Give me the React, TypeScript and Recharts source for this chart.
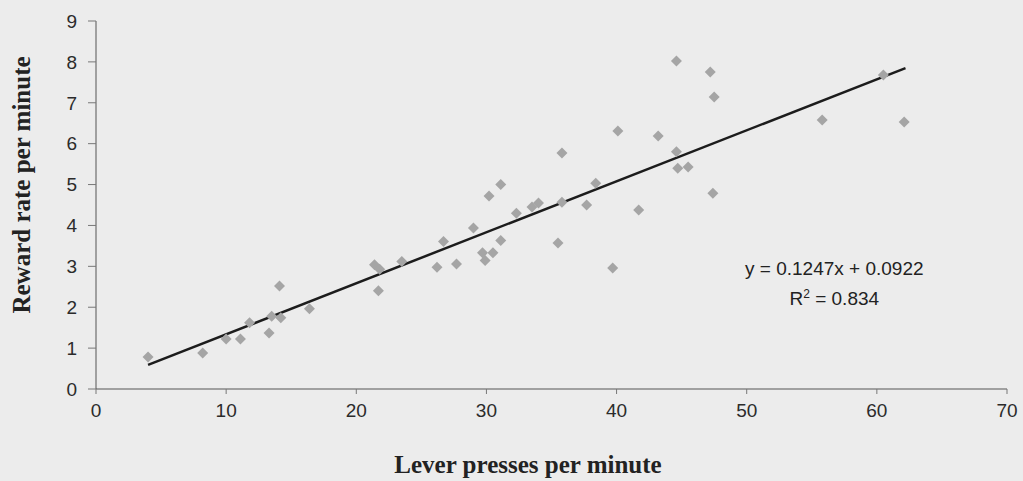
import React from "react";
import {
  ReferenceLine,
  Scatter,
  ScatterChart,
  XAxis,
  YAxis,
} from "recharts";

// Lever presses vs reward rate, one point per session.
const leverPresses = [
  4.0, 8.2, 10.0, 11.1, 11.8, 13.3, 13.5, 14.1, 14.2, 16.4,
  21.4, 21.8, 21.7, 23.5, 26.2, 26.7, 27.7, 29.7, 29.9, 30.5,
  29.0, 30.2, 31.1, 31.1, 32.3, 33.5, 34.0, 35.8, 35.8, 35.5,
  37.7, 38.4, 39.7, 40.1, 41.7, 43.2, 44.6, 44.6, 44.7, 45.5,
  47.2, 47.5, 47.4, 55.8, 60.5, 62.1,
];
const rewardRate = [
  0.78, 0.88, 1.22, 1.22, 1.62, 1.37, 1.78, 2.52, 1.74, 1.96,
  3.04, 2.93, 2.4, 3.12, 2.98, 3.61, 3.06, 3.33, 3.14, 3.33,
  3.94, 4.72, 5.0, 3.63, 4.3, 4.45, 4.55, 4.57, 5.77, 3.57,
  4.5, 5.03, 2.96, 6.31, 4.38, 6.19, 8.02, 5.8, 5.4, 5.43,
  7.75, 7.14, 4.79, 6.58, 7.68, 6.53,
];

const xTicks = [0, 10, 20, 30, 40, 50, 60, 70];
const yTicks = [0, 1, 2, 3, 4, 5, 6, 7, 8, 9];

// linear trendline as printed on the chart
const slope = 0.1247;
const intercept = 0.0922;
const rSquared = "0.834";
const trendFrom = 4.0;
const trendTo = 62.2;

const points = leverPresses.map((x, i) => ({ x, y: rewardRate[i] }));

const sans = "'Liberation Sans', Arial, sans-serif";
const serif = "'Liberation Serif', 'Times New Roman', serif";

function Diamond(props: any) {
  const { cx, cy } = props;
  const r = 5.5;
  return (
    <polygon
      points={`${cx},${cy - r} ${cx + r},${cy} ${cx},${cy + r} ${cx - r},${cy}`}
      fill="#a5a5a5"
    />
  );
}

export default function App() {
  const tick = { fill: "#2b2b2b", fontSize: 19, fontFamily: sans };
  return (
    <div
      style={{
        position: "absolute",
        left: 0,
        top: 0,
        width: 1023,
        height: 481,
        background: "#ececec",
        overflow: "hidden",
      }}
    >
      <ScatterChart
        width={1023}
        height={481}
        margin={{ top: 21, right: 16, left: 0, bottom: 0 }}
      >
        <XAxis
          type="number"
          dataKey="x"
          domain={[0, 70]}
          ticks={xTicks}
          height={92}
          tick={tick}
          tickSize={5}
          tickMargin={10}
          axisLine={{ stroke: "#555" }}
          tickLine={{ stroke: "#777" }}
        />
        <YAxis
          type="number"
          dataKey="y"
          domain={[0, 9]}
          ticks={yTicks}
          width={96}
          tick={tick}
          tickSize={8}
          tickMargin={11}
          axisLine={{ stroke: "#555" }}
          tickLine={{ stroke: "#777" }}
        />
        <Scatter
          data={points}
          shape={<Diamond />}
          isAnimationActive={false}
        />
        <ReferenceLine
          segment={[
            { x: trendFrom, y: slope * trendFrom + intercept },
            { x: trendTo, y: slope * trendTo + intercept },
          ]}
          stroke="#1c1c1c"
          strokeWidth={2.5}
          ifOverflow="visible"
        />
      </ScatterChart>

      <div
        style={{
          position: "absolute",
          left: 745,
          top: 254,
          fontFamily: sans,
          fontSize: 19,
          color: "#222",
          whiteSpace: "nowrap",
          lineHeight: "30px",
          textAlign: "center",
        }}
      >
        <div>{`y = ${slope}x + ${intercept}`}</div>
        <div>
          R<sup style={{ fontSize: 12, verticalAlign: "7px", lineHeight: 0 }}>2</sup> = {rSquared}
        </div>
      </div>

      <div
        style={{
          position: "absolute",
          left: 22,
          top: 185,
          transform: "translate(-50%, -50%) rotate(-90deg)",
          fontFamily: serif,
          fontWeight: "bold",
          fontSize: 25,
          color: "#222",
          whiteSpace: "nowrap",
        }}
      >
        Reward rate per minute
      </div>

      <div
        style={{
          position: "absolute",
          left: 528,
          top: 465,
          transform: "translate(-50%, -50%)",
          fontFamily: serif,
          fontWeight: "bold",
          fontSize: 25,
          color: "#222",
          whiteSpace: "nowrap",
        }}
      >
        Lever presses per minute
      </div>
    </div>
  );
}
